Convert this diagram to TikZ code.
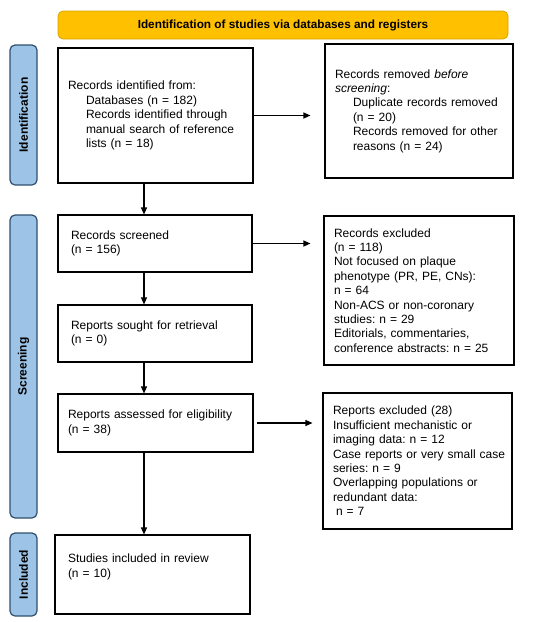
\documentclass[tikz,border=0pt]{standalone}
\usepackage{fontspec}
\setmainfont{Liberation Sans}
\usetikzlibrary{arrows.meta,calc}
\definecolor{hdrfill}{HTML}{FFC000}
\definecolor{hdrdraw}{HTML}{D9A300}
\definecolor{barfill}{HTML}{9DC3E6}
\definecolor{bardraw}{HTML}{2F4F6F}
\tikzset{
  x=1pt,y=-1pt,
  every node/.style={font=\fontsize{12}{14.4}\selectfont\frenchspacing},
  box/.style={draw=black,line width=1.1pt,rectangle,inner xsep=10pt,inner ysep=0pt,align=left},
  hdr/.style={draw=hdrdraw,fill=hdrfill,line width=0.8pt,rounded corners=5pt,font=\fontsize{11.8}{14}\selectfont\bfseries},
  bar/.style={draw=bardraw,fill=barfill,line width=1.2pt,rounded corners=5pt},
  barlabel/.style={rotate=90,font=\fontsize{12}{14}\selectfont\bfseries},
  arr/.style={line width=1.1pt,-{Triangle[length=7pt,width=6pt]}}
}
\newcommand{\ind}{\hspace*{18pt}}
\begin{document}
\begin{tikzpicture}
\useasboundingbox (0,0) rectangle (550,622);
% header
\node[hdr,minimum width=450pt,minimum height=28pt] (hdr) at (283,25) {Identification of studies via databases and registers};
% side bars
\node[bar,minimum width=27pt,minimum height=140pt] (bid) at (23.5,115) {};
\node[barlabel] (lid) at (bid.center) {Identification};
\node[bar,minimum width=27pt,minimum height=303pt] (bsc) at (23.5,366.5) {};
\node[barlabel] (lsc) at (bsc.center) {Screening};
\node[bar,minimum width=27pt,minimum height=83pt] (bin) at (23.5,574.5) {};
\node[barlabel] (lin) at (bin.center) {Included};
% boxes
\node[box,text width=175pt,minimum height=135pt] (ide) at (155.5,115.5) {Records identified from:\\
\ind Databases (n = 182)\\
\ind Records identified through\\
\ind manual search of reference\\
\ind lists (n = 18)};
\node[box,text width=168pt,minimum height=134pt] (rem) at (419,111) {Records removed \textit{before}\\
\textit{screening}:\\
\ind Duplicate records removed\\
\ind (n = 20)\\
\ind Records removed for other\\
\ind reasons (n = 24)};
\node[box,inner xsep=13pt,text width=168pt,minimum height=57pt] (scr) at (155,243.5) {Records screened\\(n = 156)};
\node[box,text width=170pt,minimum height=149pt] (exc) at (419,290.5) {Records excluded\\
(n = 118)\\
Not focused on plaque\\
phenotype (PR, PE, CNs):\\
n = 64\\
Non-ACS or non-coronary\\
studies: n = 29\\
Editorials, commentaries,\\
conference abstracts: n = 25};
\node[box,inner xsep=13pt,text width=168pt,minimum height=57pt] (sou) at (155,333.5) {Reports sought for retrieval\\(n = 0)};
\node[box,text width=175pt,minimum height=58pt] (ass) at (155.5,423) {Reports assessed for eligibility\\(n = 38)};
\node[box,inner xsep=10pt,text width=169pt,minimum height=136pt] (rex) at (417.5,461) {Reports excluded (28)\\
Insufficient mechanistic or\\
imaging data: n = 12\\
\mbox{Case reports or very small case}\\
series: n = 9\\
Overlapping populations or\\
redundant data:\\
\hspace*{3pt}n = 7};
\node[box,inner xsep=13pt,text width=169pt,minimum height=79pt] (inc) at (152.5,574.5) {Studies included in review\\(n = 10)\\[3pt]\mbox{}};
% arrows
\draw[arr,shorten >=14pt] (ide.east) -- (ide.east -| rem.west);
\draw[arr,shorten >=13pt] (scr.east) -- (scr.east -| exc.west);
\draw[arr,shorten <=3pt,shorten >=10pt] (ass.east) -- (ass.east -| rex.west);
\draw[arr] ([xshift=-11.5pt]ide.south) -- ([xshift=-11.5pt]ide.south |- scr.north);
\draw[arr] ([xshift=-11pt]scr.south) -- ([xshift=-11pt]scr.south |- sou.north);
\draw[arr] ([xshift=-11pt]sou.south) -- ([xshift=-11pt]sou.south |- ass.north);
\draw[arr] ([xshift=-11.5pt]ass.south) -- ([xshift=-11.5pt]ass.south |- inc.north);
\end{tikzpicture}
\end{document}
